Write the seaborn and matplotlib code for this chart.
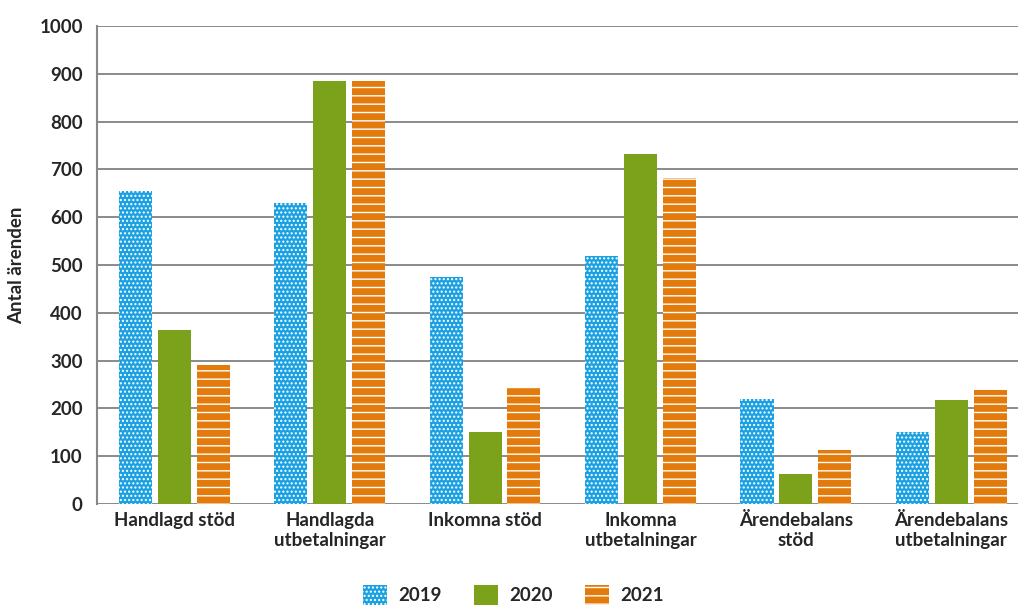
import pandas as pd
import seaborn as sns
import matplotlib.pyplot as plt
import numpy as np

# Data
categories = ['Handlagd stöd', 'Handlagda\nutbetalningar', 'Inkomna stöd',
              'Inkomna\nutbetalningar', 'Ärendebalans\nstöd', 'Ärendebalans\nutbetalningar']
years = ['2019', '2020', '2021']
values_2019 = [655, 630, 475, 519, 220, 151]
values_2020 = [364, 885, 151, 732, 63, 218]
values_2021 = [291, 885, 243, 682, 113, 238]
y_ticks = list(range(0, 1001, 100))

colors = ['#1ba1e2', '#7ca11a', '#e27b0c']
hatches = ['....', '', '--']

df = pd.DataFrame({
    'kategori': categories * 3,
    'år': [y for y in years for _ in categories],
    'antal': values_2019 + values_2020 + values_2021,
})

sns.set_style('white')
plt.rcParams['font.family'] = ['Lato', 'DejaVu Sans']
plt.rcParams['hatch.linewidth'] = 1.0

fig, ax = plt.subplots(figsize=(10.18, 6.05), dpi=100)
fig.subplots_adjust(left=0.095, right=1.0, top=0.957, bottom=0.167)

sns.barplot(data=df, x='kategori', y='antal', hue='år', palette=colors,
            saturation=1, width=0.75, gap=0.15, ax=ax, zorder=3)

# hatches drawn in white (edgecolor), no visible outline
for cont, h in zip(ax.containers, hatches):
    for p in cont:
        p.set_hatch(h)
        p.set_edgecolor('white')
        p.set_linewidth(0)

ax.set_ylim(0, 1000)
ax.set_yticks(y_ticks)
ax.set_xlim(-0.5, 5.43)
ax.yaxis.grid(True, color='#777777', linewidth=1.2, zorder=0)
ax.set_axisbelow(True)
for s in ['top', 'right', 'bottom']:
    ax.spines[s].set_visible(False)
ax.spines['left'].set_color('#888888')
ax.spines['left'].set_linewidth(1.5)
ax.tick_params(axis='y', length=6, width=1.2, color='#888888', labelsize=13.5, pad=4)
ax.tick_params(axis='x', length=0, labelsize=13.5, pad=6)
for lbl in ax.get_xticklabels() + ax.get_yticklabels():
    lbl.set_fontweight('bold')

ax.set_xlabel('')
ax.set_ylabel('Antal ärenden', fontsize=13.5, fontweight='bold', labelpad=10)

ax.legend(handles=list(ax.containers), labels=years, loc='upper center',
          bbox_to_anchor=(0.452, -0.135), ncol=3, frameon=False,
          prop={'weight': 'bold', 'size': 13.5}, handlelength=1.3, handleheight=1.2,
          columnspacing=1.7, handletextpad=0.6)

fig.savefig('out.png', dpi=100)
